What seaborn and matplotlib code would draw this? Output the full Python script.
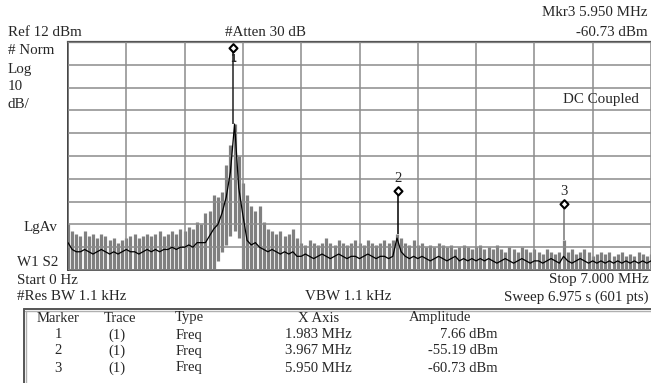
import numpy as np
import pandas as pd
import matplotlib
matplotlib.use("Agg")
import matplotlib.pyplot as plt
import seaborn as sns
from matplotlib.path import Path
from matplotlib.lines import Line2D

# ---------------- data ----------------
ref_level = 12          # dBm, top of screen
db_per_div = 10
n_div = 10
start_mhz, stop_mhz = 0.0, 7.0

# sweep frequencies (MHz), one per displayed column
freq_mhz = np.linspace(start_mhz, stop_mhz, 141)

# peak (max) envelope of the trace, dBm
trace_max = [-68, -71, -72, -73, -71, -73, -72, -74, -72, -73,
             -75, -74, -76, -75, -74, -73, -72, -74, -73, -72,
             -73, -72, -71, -73, -72, -71, -72, -70, -71, -69,
             -70, -67, -68, -63, -62, -55, -56, -54, -42, -33,
             -24, -38, -50, -55, -60, -62, -60, -67, -70, -71,
             -72, -71, -73, -72, -70, -74, -76, -77, -75, -76,
             -77, -76, -74, -76, -77, -75, -76, -77, -76, -75,
             -76, -77, -75, -76, -77, -76, -75, -76, -75, -72,
             -74, -76, -77, -75, -77, -76, -78, -77, -78, -76,
             -77, -78, -77, -79, -78, -77, -78, -79, -78, -77,
             -79, -78, -79, -77, -79, -80, -78, -79, -80, -78,
             -79, -80, -79, -80, -81, -79, -80, -81, -80, -75,
             -80, -79, -81, -80, -79, -80, -82, -81, -80, -81,
             -80, -82, -81, -80, -82, -81, -82, -80, -81, -82,
             -81]

# minimum envelope of the trace, dBm (screen bottom = -88)
trace_min = [-88, -88, -88, -88, -88, -88, -88, -88, -88, -88,
             -88, -88, -88, -88, -88, -88, -88, -88, -88, -88,
             -88, -88, -88, -88, -88, -88, -88, -88, -88, -88,
             -88, -88, -88, -88, -88, -88, -84, -80, -77, -73,
             -71, -74, -88, -88, -88, -88, -88, -88, -88, -88,
             -88, -88, -88, -88, -88, -88, -88, -88, -88, -88,
             -88, -88, -88, -88, -88, -88, -88, -88, -88, -88,
             -88, -88, -88, -88, -88, -88, -88, -88, -88, -88,
             -88, -88, -88, -88, -88, -88, -88, -88, -88, -88,
             -88, -88, -88, -88, -88, -88, -88, -88, -88, -88,
             -88, -88, -88, -88, -88, -88, -88, -88, -88, -88,
             -88, -88, -88, -88, -88, -88, -88, -88, -88, -88,
             -88, -88, -88, -88, -88, -88, -88, -88, -88, -88,
             -88, -88, -88, -88, -88, -88, -88, -88, -88, -88,
             -88]

# log-average trace, dBm
trace_avg = [-76, -79, -80, -80, -79, -80, -81, -80, -79, -80,
             -81, -80, -81, -80, -79, -80, -80, -81, -80, -79,
             -80, -79, -80, -79, -79, -78, -79, -78, -78, -77,
             -78, -76, -76, -76, -73, -70, -68, -63, -56, -45,
             -24, -52, -64, -75, -77, -76, -78, -79, -80, -79,
             -80, -81, -80, -81, -80, -82, -82, -81, -82, -83,
             -82, -81, -82, -83, -82, -81, -82, -83, -82, -82,
             -83, -82, -81, -82, -83, -82, -82, -83, -82, -74,
             -80, -82, -83, -82, -83, -82, -83, -84, -83, -82,
             -83, -84, -83, -82, -84, -83, -84, -83, -84, -83,
             -84, -83, -84, -85, -84, -83, -84, -85, -84, -83,
             -84, -85, -84, -84, -85, -84, -83, -84, -85, -82,
             -84, -85, -84, -83, -84, -85, -84, -85, -84, -85,
             -84, -85, -84, -85, -84, -85, -84, -85, -84, -85,
             -84]

# markers
marker_ids = ["1", "2", "3"]
marker_freq = [1.983, 3.967, 5.950]
marker_amp = [7.66, -55.19, -60.73]
marker_base = [-24, -72, -75]      # trace level under each marker stem

# table
table_header = ["Marker", "Trace", "Type", "X Axis", "Amplitude"]
table_trace = ["(1)", "(1)", "(1)"]
table_type = ["Freq", "Freq", "Freq"]
table_x = ["1.983 MHz", "3.967 MHz", "5.950 MHz"]
table_amp = ["7.66 dBm", "-55.19 dBm", "-60.73 dBm"]

# ---------------- figure ----------------
sns.set_style("white")
plt.rcParams['font.family'] = ['Liberation Serif', 'DejaVu Serif']

W, H = 651, 383
fig = plt.figure(figsize=(W / 100, H / 100), dpi=100)

ax_left, ax_right, ax_top, ax_bot = 68, 651, 42, 270
ax = fig.add_axes([ax_left / W, 1 - ax_bot / H, (ax_right - ax_left) / W,
                   (ax_bot - ax_top) / H])

bottom_level = ref_level - n_div * db_per_div
ax.set_xlim(start_mhz, stop_mhz)
ax.set_ylim(bottom_level, ref_level)

# gray min/max columns
ax.vlines(freq_mhz, trace_min, trace_max, color="#808080", lw=2.3, zorder=2)

# black averaged trace
df = pd.DataFrame({"f": freq_mhz, "avg": trace_avg})
sns.lineplot(data=df, x="f", y="avg", color="black", lw=0.9, ax=ax,
             zorder=4, estimator=None, sort=False)

# grid
ax.set_xticks(np.linspace(start_mhz, stop_mhz, n_div + 1))
ax.set_yticks(np.arange(bottom_level, ref_level + 1, db_per_div))
ax.grid(True, color="#8c8c8c", lw=1.1, zorder=3)
ax.set_axisbelow(False)
ax.tick_params(length=0, labelbottom=False, labelleft=False)
ax.set_xlabel("")
ax.set_ylabel("")
for s in ["top", "left", "bottom", "right"]:
    ax.spines[s].set_visible(True)
ax.spines["top"].set_color("#555555")
ax.spines["top"].set_linewidth(1.6)
ax.spines["left"].set_color("#333333")
ax.spines["left"].set_linewidth(1.3)
ax.spines["bottom"].set_color("#444444")
ax.spines["bottom"].set_linewidth(1.2)
ax.spines["right"].set_visible(False)

# marker stems and diamonds
stem_colors = ["#222222", "black", "#777777"]
for f, a, b, c in zip(marker_freq, marker_amp, marker_base, stem_colors):
    ax.vlines(f, b, a, color=c, lw=1.1, zorder=5)

diamond = Path([(0, 0), (0.48, 0.5), (0, 1), (-0.48, 0.5), (0, 0)],
               [Path.MOVETO, Path.LINETO, Path.LINETO, Path.LINETO, Path.CLOSEPOLY])
ax.plot(marker_freq, marker_amp, linestyle="none", marker=diamond,
        markersize=12, markerfacecolor="white", markeredgecolor="black",
        markeredgewidth=1.5, zorder=6, clip_on=False)

# marker labels
ax.annotate(marker_ids[0], (marker_freq[0], marker_amp[0]), xytext=(0, -7),
            textcoords="offset pixels", ha="center", va="center",
            fontsize=7, fontweight="bold", family="DejaVu Sans Mono", zorder=7)
for i in (1, 2):
    ax.annotate(marker_ids[i], (marker_freq[i], marker_amp[i]),
                xytext=(0, 17 if i == 1 else 16),
                textcoords="offset pixels", ha="center", va="center",
                fontsize=10.5, zorder=7)

# ---------------- text ----------------
FS = 10.8


def t(x, y, s, ha="left", fs=FS, **kw):
    fig.text(x / W, 1 - y / H, s, ha=ha, va="center", fontsize=fs, **kw)


t(648, 13, "Mkr3 5.950 MHz", ha="right")
t(648, 32, "-60.73 dBm", ha="right")
t(8, 32, "Ref 12 dBm")
t(225, 32, "#Atten 30 dB")
t(8, 51, "# Norm")
t(8, 69, "Log")
t(8, 87, "10")
t(8, 105, "dB/")
t(639, 100, "DC Coupled", ha="right")
t(24, 227, "LgAv")
t(17, 262, "W1 S2")
t(17, 280, "Start 0 Hz")
t(649, 280, "Stop 7.000 MHz", ha="right")
t(17, 297, "#Res BW 1.1 kHz")
t(348, 297, "VBW 1.1 kHz", ha="center")
t(649, 297, "Sweep 6.975 s (601 pts)", ha="right")

# table frame
fig.add_artist(Line2D([24 / W, 1.0], [1 - 308.5 / H] * 2, color="#555555", lw=1.4))
fig.add_artist(Line2D([25 / W, 1.0], [1 - 310.5 / H] * 2, color="#b0b0b0", lw=1.0))
fig.add_artist(Line2D([24 / W] * 2, [1 - 308.5 / H, 0.0], color="#555555", lw=1.4))
fig.add_artist(Line2D([26 / W] * 2, [1 - 310.5 / H, 0.0], color="#b0b0b0", lw=1.0))

TFS = 10.5
hdr_x = [58, 120, 175, 319, 440]
hdr_ha = ["center", "center", "left", "center", "center"]
for s, x, ha in zip(table_header, hdr_x, hdr_ha):
    t(x, 318, s, ha=ha, fs=TFS)
row_y = [335, 351, 368]
for i, y in enumerate(row_y):
    t(58, y, marker_ids[i], ha="center", fs=TFS)
    t(117, y, table_trace[i], ha="center", fs=TFS)
    t(176, y, table_type[i], fs=TFS)
    t(318, y, table_x[i], ha="center", fs=TFS)
    t(498, y, table_amp[i], ha="right", fs=TFS)

fig.savefig("out.png", dpi=100)
